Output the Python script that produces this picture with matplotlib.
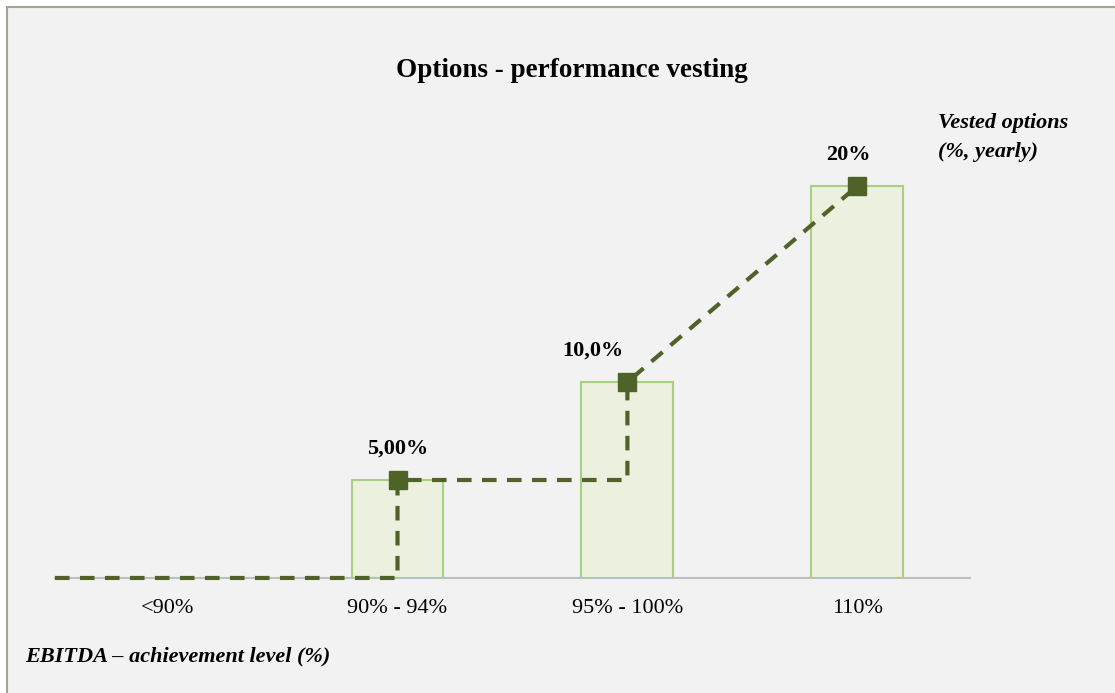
import matplotlib
matplotlib.use("Agg")
import matplotlib.pyplot as plt
from matplotlib.patches import Rectangle

plt.rcParams['font.family'] = ['Liberation Serif', 'DejaVu Serif']

# data
categories = ["<90%", "90% - 94%", "95% - 100%", "110%"]
vested = [0, 5, 10, 20]
value_labels = ["", "5,00%", "10,0%", "20%"]

bar_fill = '#ebf1de'
bar_edge = '#a9cf80'
line_col = '#4f6228'

fig = plt.figure(figsize=(11.15, 6.93), dpi=100)
fig.patch.set_facecolor('white')

# grey panel with thin border, drawn in a background axes
bg = fig.add_axes([0, 0, 1, 1], zorder=-1)
bg.set_axis_off()
bg.set_xlim(0, 1)
bg.set_ylim(0, 1)
bg.add_patch(Rectangle((7 / 1115, -0.02), 1.1, (686 / 693) + 0.02,
                       facecolor='#f2f2f2', edgecolor='#a3a68f', lw=1.5))

ax = fig.add_axes([0.0493, 0.166, 0.8206, 0.622])
ax.set_facecolor('none')

x = list(range(len(categories)))
ax.bar(x[1:], vested[1:], width=0.4, color=bar_fill, edgecolor=bar_edge, lw=1.5, zorder=2)

# stepped dashed line through the vested levels
xl = -0.49
lx = [xl, x[1], x[1], x[2], x[2], x[3]]
ly = [vested[0], vested[0], vested[1], vested[1], vested[2], vested[3]]
ax.plot(lx, ly, color=line_col, lw=3, ls=(0, (3.5, 2.5)), zorder=3, clip_on=False)
ax.plot(x[1:], vested[1:], ls='none', marker='s', ms=13, color=line_col, zorder=4,
        clip_on=False)

dx = [0, 0, -0.15, -0.04]
for i in range(1, len(x)):
    ax.text(x[i] + dx[i], vested[i] + 1.1, value_labels[i], ha='center', va='bottom',
            fontsize=16, fontweight='bold')

ax.set_xlim(xl, 3.49)
ax.set_ylim(0, 22)
ax.set_xticks(x)
ax.set_xticklabels(categories, fontsize=16)
ax.tick_params(axis='x', length=0, pad=15)
ax.set_yticks([])
for s in ['top', 'right', 'left']:
    ax.spines[s].set_visible(False)
ax.spines['bottom'].set_color('#bfbfbf')
ax.spines['bottom'].set_linewidth(1.5)
ax.spines['bottom'].set_zorder(1)

fig.text(0.513, 0.898, "Options - performance vesting", ha='center', va='center',
         fontsize=19.5, fontweight='bold')
fig.text(0.841, 0.802, "Vested options\n(%, yearly)", ha='left', va='center',
         fontsize=16, fontweight='bold', style='italic', linespacing=1.6)
fig.text(0.0224, 0.052, "EBITDA \u2013 achievement level (%)", ha='left', va='center',
         fontsize=16, fontweight='bold', style='italic')

fig.savefig("out.png", dpi=100)
